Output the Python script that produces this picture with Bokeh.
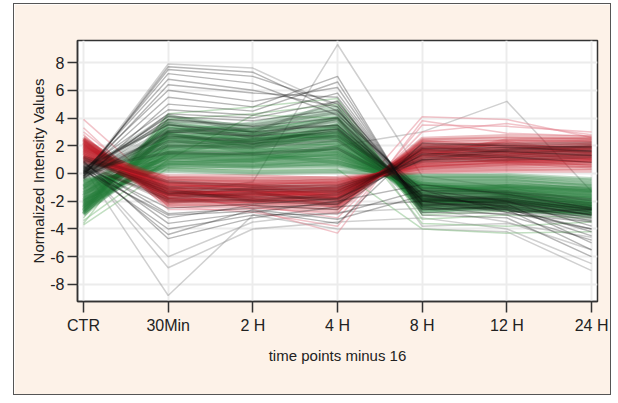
from bokeh.plotting import figure
from bokeh.models import Range1d, FixedTicker, ColumnDataSource
from bokeh.embed import file_html
from bokeh.resources import INLINE

# ---- data ----
time_labels = ["CTR", "30Min", "2 H", "4 H", "8 H", "12 H", "24 H"]
y_ticks = [-8, -6, -4, -2, 0, 2, 4, 6, 8]
y_tick_labels = ["-8", "-6", "-4", "-2", "0", "2", "4", "6", "8"]

# green profiles: up early, down late
green_lines = [
    [-2.9, 4.1, 3.3, 4.5, -2.7, -2.5, -2.8],
    [-2.7, 3.8, 3.0, 4.0, -2.5, -2.3, -2.6],
    [-2.6, 3.6, 2.9, 3.6, -2.3, -2.4, -2.9],
    [-2.5, 3.4, 3.1, 3.9, -2.4, -2.0, -2.5],
    [-2.4, 3.2, 2.7, 3.3, -2.1, -2.2, -2.4],
    [-2.3, 3.0, 2.5, 3.1, -2.0, -1.9, -2.2],
    [-2.2, 2.9, 2.6, 2.8, -1.9, -2.1, -2.6],
    [-2.1, 2.7, 2.3, 2.6, -1.8, -1.7, -2.0],
    [-2.0, 2.6, 2.4, 2.9, -1.7, -1.8, -2.3],
    [-1.9, 2.4, 2.1, 2.4, -1.6, -1.5, -1.8],
    [-1.8, 2.3, 2.2, 2.2, -1.5, -1.6, -2.1],
    [-1.7, 2.1, 1.9, 2.0, -1.4, -1.3, -1.7],
    [-1.6, 2.0, 1.8, 2.1, -1.3, -1.5, -1.9],
    [-1.5, 1.8, 1.6, 1.8, -1.2, -1.1, -1.5],
    [-1.4, 1.7, 1.7, 1.6, -1.1, -1.2, -1.6],
    [-1.3, 1.5, 1.4, 1.5, -1.0, -0.9, -1.3],
    [-1.2, 1.4, 1.3, 1.3, -0.9, -1.0, -1.4],
    [-1.1, 1.2, 1.1, 1.2, -0.8, -0.8, -1.1],
    [-1.0, 1.1, 1.0, 1.0, -0.7, -0.7, -1.2],
    [-0.9, 0.9, 0.8, 0.9, -0.6, -0.6, -0.9],
    [-0.8, 0.8, 0.7, 0.7, -0.5, -0.5, -1.0],
    [-0.7, 0.6, 0.5, 0.6, -0.4, -0.4, -0.8],
    [-0.6, 0.5, 0.4, 0.5, -0.3, -0.3, -0.7],
    [-0.5, 0.3, 0.1, 0.2, -0.2, -0.1, -0.4],
    [-0.4, 0.2, 0.0, 0.1, -0.1, -0.2, -0.5],
    [-3.0, 2.2, 2.8, 3.4, -2.6, -2.6, -3.0],
    [-2.8, 1.9, 2.0, 2.7, -2.2, -1.9, -2.7],
    [-2.6, 1.6, 1.5, 2.3, -1.9, -2.0, -2.4],
    [-2.4, 1.3, 1.2, 1.9, -1.6, -1.4, -2.0],
    [-2.2, 1.0, 0.9, 1.5, -1.3, -1.2, -1.6],
    [-2.0, 0.8, 0.6, 1.1, -1.0, -1.1, -1.4],
    [-1.8, 0.6, 0.5, 0.8, -0.8, -0.9, -1.2],
    [-2.9, 3.0, 3.6, 4.8, -2.8, -2.2, -2.5],
    [-2.5, 2.5, 3.2, 4.2, -2.4, -2.5, -2.8],
    [-2.1, 2.8, 2.0, 3.5, -2.1, -1.6, -2.1],
    [-1.6, 3.5, 2.2, 3.0, -1.9, -1.8, -2.3],
    [-1.2, 1.9, 2.5, 2.5, -1.7, -2.3, -2.7],
    [-0.9, 2.5, 1.5, 1.7, -1.1, -1.4, -1.8],
    [-1.4, 1.2, 0.9, 1.9, -1.5, -0.9, -1.1],
    [-0.6, 1.5, 1.2, 1.4, -0.9, -1.3, -1.7],
    [-2.3, 0.7, 1.0, 1.2, -1.0, -1.0, -1.3],
    [-1.9, 1.3, 1.4, 0.8, -0.7, -1.5, -2.2],
    [-2.7, 2.9, 1.8, 2.9, -2.0, -2.0, -2.4],
    [-1.0, 3.2, 2.9, 2.6, -1.8, -2.6, -3.0],
    [-2.8, 1.5, 2.4, 3.2, -2.3, -1.7, -2.2],
]
# pale green outliers
pale_green_lines = [
    [-3.2, 3.9, 4.3, 5.0, -3.0, -2.7, -2.9],
    [-3.6, 4.3, 4.8, 5.4, -3.3, -3.0, -3.2],
    [-3.7, 0.4, 0.2, 0.3, -4.0, -4.3, -4.2],
    [-3.4, 1.0, 4.2, 4.0, -3.6, -3.8, -3.5],
]
# red profiles: down early, up late
red_lines = [
    [2.6, -2.2, -2.2, -2.5, 2.4, 2.5, 2.4],
    [2.5, -2.0, -2.1, -2.3, 2.2, 2.3, 2.2],
    [2.4, -1.9, -2.0, -2.1, 2.0, 2.1, 2.3],
    [2.3, -1.8, -1.8, -2.0, 1.9, 1.9, 2.0],
    [2.2, -1.7, -1.9, -1.8, 1.7, 2.0, 1.8],
    [2.1, -1.6, -1.6, -1.7, 1.6, 1.7, 1.9],
    [2.0, -1.5, -1.7, -1.6, 1.5, 1.5, 1.6],
    [1.9, -1.4, -1.4, -1.5, 1.3, 1.6, 1.7],
    [1.8, -1.3, -1.5, -1.3, 1.2, 1.3, 1.4],
    [1.7, -1.2, -1.2, -1.2, 1.1, 1.2, 1.5],
    [1.6, -1.1, -1.3, -1.1, 0.9, 1.0, 1.2],
    [1.5, -1.0, -1.0, -1.0, 0.8, 1.1, 1.3],
    [1.4, -0.9, -1.1, -0.9, 0.7, 0.8, 1.0],
    [1.3, -0.8, -0.8, -0.8, 0.6, 0.9, 1.1],
    [1.2, -0.7, -0.9, -0.7, 0.5, 0.6, 0.8],
    [1.1, -0.6, -0.6, -0.6, 0.4, 0.7, 0.9],
    [1.0, -0.5, -0.7, -0.5, 0.4, 0.5, 0.6],
    [0.9, -0.3, -0.4, -0.3, 0.2, 0.3, 0.4],
    [0.8, -0.2, -0.2, -0.4, 0.1, 0.2, 0.2],
    [2.5, -1.5, -1.3, -1.9, 1.8, 2.2, 1.5],
    [2.2, -2.1, -1.5, -1.4, 1.4, 1.8, 2.1],
    [1.9, -1.0, -1.9, -2.2, 2.1, 1.4, 1.2],
    [1.6, -1.7, -1.1, -1.6, 1.6, 1.2, 0.9],
    [1.3, -1.3, -1.6, -1.0, 1.0, 1.5, 1.8],
    [2.0, -0.7, -1.2, -2.4, 2.3, 1.9, 1.4],
    [2.4, -1.1, -0.8, -1.2, 1.2, 2.4, 2.5],
    [1.5, -1.9, -2.0, -1.7, 1.7, 1.0, 0.7],
    [1.8, -0.4, -0.5, -0.7, 0.6, 0.9, 1.0],
    [1.2, -1.5, -1.4, -1.4, 1.4, 0.8, 0.5],
    [2.1, -1.2, -1.8, -1.3, 0.9, 1.3, 1.9],
    [2.3, -2.3, -2.4, -2.7, 2.5, 2.7, 2.6],
    [1.7, -0.8, -0.9, -1.8, 1.8, 1.6, 1.1],
]
# pink outliers
pink_lines = [
    [3.9, -1.5, -2.5, -2.9, 4.1, 3.9, 2.6],
    [3.3, -2.4, -2.8, -3.8, 3.5, 3.4, 3.0],
    [3.0, -1.8, -2.3, -3.2, 3.0, 3.6, 2.8],
    [2.8, -2.6, -2.6, -4.3, 3.8, 2.9, 2.7],
]
# dark profiles mixed into the green bundle
dark_green_lines = [
    [-0.2, 3.8, 3.5, 4.4, -2.2, -2.4, -3.2],
    [0.0, 3.2, 2.8, 3.8, -2.0, -2.2, -2.9],
    [0.2, 2.6, 2.4, 3.0, -1.8, -1.9, -2.7],
    [-0.1, 2.0, 1.9, 2.4, -1.5, -1.6, -2.4],
    [0.3, 1.5, 1.4, 1.8, -1.3, -1.4, -2.2],
    [0.1, 4.2, 3.0, 5.2, -2.5, -2.6, -3.4],
    [-0.3, 3.0, 3.3, 3.4, -1.6, -2.0, -2.6],
    [0.0, 2.3, 2.1, 2.7, -1.1, -1.3, -1.9],
    [0.4, 3.6, 2.6, 4.0, -2.3, -2.1, -3.0],
    [-0.4, 2.8, 2.2, 3.2, -1.9, -1.7, -2.5],
]
# dark profiles mixed into the red bundle
dark_red_lines = [
    [1.0, -1.0, -1.2, -1.3, 1.2, 1.4, 1.6],
    [0.8, -1.5, -1.7, -1.8, 1.6, 1.8, 1.9],
    [1.2, -0.6, -0.9, -0.9, 0.9, 1.0, 1.2],
    [0.6, -1.8, -1.4, -2.0, 2.0, 2.1, 2.2],
    [0.9, -1.2, -2.0, -1.5, 1.4, 1.2, 1.4],
    [0.7, -2.0, -1.9, -2.2, 1.8, 1.6, 1.7],
    [1.1, -1.4, -1.1, -1.1, 1.0, 1.7, 2.0],
]
# dark profiles with large swings
black_lines = [
    [-0.3, 7.7, 7.3, 4.5, -1.5, -2.5, -4.5],
    [-0.2, 7.5, 7.0, 5.0, -1.8, -2.2, -5.0],
    [0.0, 7.2, 6.5, 4.2, -1.2, -2.8, -4.0],
    [0.1, 6.8, 6.0, 4.8, -2.0, -2.0, -3.8],
    [-0.1, 6.4, 5.8, 5.5, -2.3, -2.6, -5.5],
    [0.2, 6.0, 5.2, 6.2, -2.6, -2.4, -4.2],
    [0.0, 5.5, 4.8, 7.0, -3.0, -3.2, -6.0],
    [-0.4, 5.0, 4.5, 6.6, -2.8, -2.9, -3.5],
    [0.3, 4.6, 4.2, 5.8, -2.4, -3.0, -4.8],
    [-0.2, 4.3, 4.0, 5.2, -2.2, -2.3, -3.2],
    [0.1, 4.1, 3.8, 4.6, -2.0, -2.6, -4.0],
    [0.0, 3.9, 3.4, 4.0, -1.9, -2.1, -3.0],
    [0.4, 3.5, 3.0, 3.5, -1.7, -1.9, -2.8],
    [-0.3, 3.0, 2.7, 3.2, -1.6, -1.8, -2.6],
    [0.5, -2.5, -2.2, -1.8, 1.0, 1.2, 0.8],
    [0.7, -2.9, -2.5, -2.2, 1.4, 1.6, 1.3],
    [0.4, -3.2, -2.3, -2.6, 1.8, 1.9, 1.6],
    [0.8, -3.6, -2.8, -2.0, -0.8, -1.5, -2.5],
    [0.3, -4.0, -3.0, -2.9, -1.2, -2.0, -3.0],
    [0.6, -4.4, -2.6, -3.3, -1.6, -2.4, -3.4],
    [0.9, -4.7, -3.2, -2.4, -2.0, -2.8, -2.6],
    [0.2, -3.0, -2.7, -3.6, 2.2, 2.0, 1.9],
]
# pale grey outliers
grey_lines = [
    [0.5, -6.0, -3.5, -2.8, -2.5, -3.5, -5.5],
    [0.6, -6.8, -4.0, -3.5, -3.2, -4.0, -6.5],
    [0.4, -8.8, -3.0, -4.0, -4.0, -4.2, -7.0],
    [-0.2, 7.9, 7.6, 4.8, -3.8, -3.6, -4.6],
    [0.2, -1.5, -0.6, 9.3, -0.2, -1.0, -2.0],
    [0.0, 1.0, 1.5, 2.0, 3.0, 5.2, -1.3],
]

FONT = "Liberation Sans"
BEIGE = "#fdf2e8"

p = figure(width=598, height=392,
           x_range=Range1d(-0.071, 6.07), y_range=Range1d(-9.23, 9.59),
           output_backend="svg", toolbar_location=None,
           min_border_left=63, min_border_right=15,
           min_border_top=36, min_border_bottom=95,
           background_fill_color="white", border_fill_color=BEIGE,
           outline_line_color="#333333", outline_line_width=1.5)
p.styles = {"margin-left": "13px", "margin-top": "3px",
            "border": "1px solid #555555"}

xs_idx = list(range(len(time_labels)))

def add_group(lines, color, alpha, width):
    src = ColumnDataSource(dict(xs=[xs_idx] * len(lines), ys=lines))
    p.multi_line("xs", "ys", source=src, line_color=color,
                 line_alpha=alpha, line_width=width)

add_group(grey_lines, "#8a8a8a", 0.4, 1.5)
add_group(pink_lines, "#e58a96", 0.5, 1.5)
add_group(pale_green_lines, "#86bf86", 0.5, 1.5)
add_group(green_lines, "#1f7a36", 0.28, 4)
add_group(red_lines, "#bf1d29", 0.28, 4)
add_group(dark_green_lines, "#0d1f10", 0.22, 3)
add_group(dark_red_lines, "#2a0808", 0.22, 3)
add_group(black_lines, "#111111", 0.3, 1.4)

# grid
p.xgrid.ticker = FixedTicker(ticks=xs_idx)
p.ygrid.ticker = FixedTicker(ticks=y_ticks)
for g in (p.xgrid, p.ygrid):
    g.grid_line_color = "#ececec"
    g.grid_line_width = 2
p.xgrid.level = "underlay"
p.ygrid.level = "underlay"

# axes
p.xaxis.ticker = FixedTicker(ticks=xs_idx)
p.xaxis.major_label_overrides = {i: lab for i, lab in enumerate(time_labels)}
p.yaxis.ticker = FixedTicker(ticks=y_ticks)
p.yaxis.major_label_overrides = {t: lab for t, lab in zip(y_ticks, y_tick_labels)}
p.xaxis.axis_label = "time points minus 16"
p.yaxis.axis_label = "Normalized Intensity Values"
for ax in (p.xaxis, p.yaxis):
    ax.axis_line_color = "#333333"
    ax.axis_line_width = 1.5
    ax.major_tick_line_color = "#333333"
    ax.major_tick_line_width = 1.5
    ax.major_tick_in = 0
    ax.minor_tick_line_color = None
    ax.major_label_text_font = FONT
    ax.major_label_text_font_size = "16px"
    ax.major_label_text_color = "#222222"
    ax.axis_label_text_font = FONT
    ax.axis_label_text_font_size = "15px"
    ax.axis_label_text_font_style = "normal"
    ax.axis_label_text_color = "#222222"
p.xaxis.major_tick_out = 11
p.yaxis.major_tick_out = 10
p.xaxis.major_label_standoff = 4
p.yaxis.major_label_standoff = 3
p.xaxis.axis_label_standoff = 10
p.yaxis.axis_label_standoff = 0

open("out.html", "w").write(file_html(p, INLINE))
